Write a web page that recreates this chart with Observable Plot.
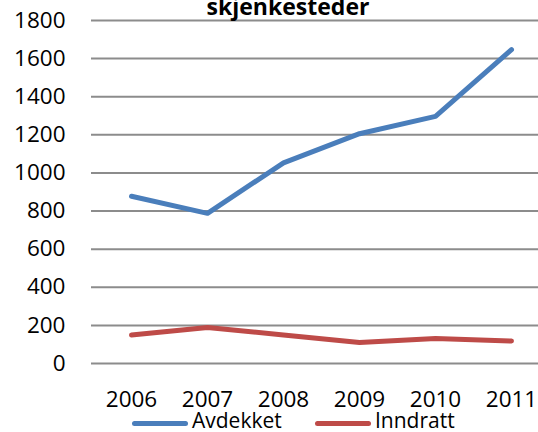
<!DOCTYPE html>
<html>
<head>
<meta charset="utf-8">
<script src="https://cdn.jsdelivr.net/npm/d3@7"></script>
<script src="https://cdn.jsdelivr.net/npm/@observablehq/plot@0.6"></script>
<style>
  html, body { margin: 0; padding: 0; background: #fff; overflow: hidden; }
  #wrap { position: relative; width: 538px; height: 432px; font-family: "Open Sans", sans-serif; }
  #title { position: absolute; left: 288px; top: -5px; transform: translateX(-50%); font-weight: bold; font-size: 23px; white-space: nowrap; color: #000; line-height: 1; }
  .sw { position: absolute; top: 421px; width: 56px; height: 5px; border-radius: 3px; }
  .lt { position: absolute; top: 410px; font-size: 21px; line-height: 1; color: #000; white-space: nowrap; }
</style>
</head>
<body>
<div id="wrap">
  <div id="chart"></div>
  <div id="title">skjenkesteder</div>
  <div id="legend"></div>
</div>
<script>
const years = [2006, 2007, 2008, 2009, 2010, 2011];
const avdekket = [878, 788, 1053, 1206, 1297, 1647];
const inndratt = [149, 189, 150, 110, 131, 118];
const seriesNames = ["Avdekket", "Inndratt"];
const seriesColors = ["#4a7ebb", "#be4b48"];
const yTicks = [0, 200, 400, 600, 800, 1000, 1200, 1400, 1600, 1800];

const rows = [];
years.forEach((y, i) => {
  rows.push({year: y, value: avdekket[i], series: seriesNames[0]});
  rows.push({year: y, value: inndratt[i], series: seriesNames[1]});
});

const chart = Plot.plot({
  width: 538,
  height: 410,
  marginTop: 20,
  marginBottom: 47,
  marginLeft: 91,
  marginRight: 0,
  style: {fontFamily: "Open Sans, sans-serif", fontSize: "22.5px", color: "#000", background: "#fff", overflow: "visible"},
  x: {type: "point", domain: years, padding: 0.42, align: 0.6, label: null, tickSize: 0, tickPadding: 28, tickFormat: d => String(d)},
  y: {domain: [0, 1800], ticks: yTicks, label: null, tickSize: 0, tickPadding: 26, tickFormat: d => String(d)},
  color: {domain: seriesNames, range: seriesColors},
  marks: [
    Plot.ruleY(yTicks, {stroke: "#8c8c8c", strokeWidth: 2, strokeOpacity: 1}),
    Plot.line(rows, {x: "year", y: "value", z: "series", stroke: "series", strokeWidth: 5, strokeLinecap: "round", strokeLinejoin: "round"})
  ]
});
document.getElementById("chart").appendChild(chart);

const wrap = document.getElementById("wrap");
const lefts = [132, 315];
seriesNames.forEach((name, i) => {
  const sw = document.createElement("div");
  sw.className = "sw";
  sw.style.left = lefts[i] + "px";
  sw.style.background = seriesColors[i];
  wrap.appendChild(sw);
  const tx = document.createElement("div");
  tx.className = "lt";
  tx.style.left = (lefts[i] + 60) + "px";
  tx.textContent = name;
  wrap.appendChild(tx);
});
</script>
</body>
</html>
